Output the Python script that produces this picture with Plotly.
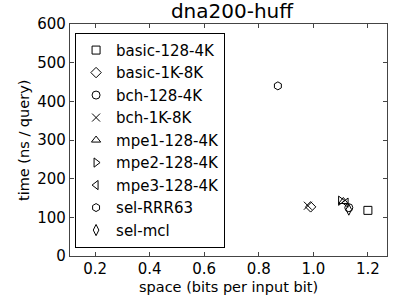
import plotly.graph_objects as go

names = ["basic-128-4K", "basic-1K-8K", "bch-128-4K", "bch-1K-8K", "mpe1-128-4K",
         "mpe2-128-4K", "mpe3-128-4K", "sel-RRR63", "sel-mcl"]
space = [1.20, 0.99, 1.13, 0.98, 1.11, 1.10, 1.12, 0.87, 1.13]
time_ns = [118, 127, 125, 130, 141, 143, 138, 440, 120]
symbols = ["square-open", "diamond-open", "circle-open", "x-thin-open", "triangle-up-open",
           "triangle-right-open", "triangle-left-open", "hexagon-open", "diamond-tall-open"]
xticks = [0.2, 0.4, 0.6, 0.8, 1.0, 1.2]
yticks = [0, 100, 200, 300, 400, 500, 600]

fig = go.Figure()
for n, sx, ty, sym in zip(names, space, time_ns, symbols):
    fig.add_trace(go.Scatter(
        x=[sx], y=[ty], mode="markers", name=n,
        marker=dict(symbol=sym, size=8, color="black",
                    line=dict(color="black", width=1)),
    ))

font = "DejaVu Sans"
axis_common = dict(showgrid=False, zeroline=False, showline=True, linecolor="#444444",
                   linewidth=1.3, mirror="ticks", ticks="inside", ticklen=4,
                   tickcolor="#444444", tickfont=dict(family=font, size=15, color="black"))
fig.update_layout(
    width=399, height=299,
    margin=dict(l=70, r=12, t=24, b=43),
    paper_bgcolor="white", plot_bgcolor="white",
    title=dict(text="dna200-huff", xref="paper", x=0.511, xanchor="center",
               yref="container", y=1 - 11 / 299, yanchor="middle",
               font=dict(family=font, size=20, color="black")),
    xaxis=dict(range=[0.108, 1.27], tickvals=xticks, ticklabelstandoff=-1,
               ticktext=[f"{v:.1f}" for v in xticks], **axis_common),
    yaxis=dict(range=[0, 600], tickvals=yticks, **axis_common),
    legend=dict(x=0.016, y=0.962, xanchor="left", yanchor="top",
                bordercolor="black", borderwidth=1, bgcolor="white",
                font=dict(family=font, size=15, color="black"),
                itemwidth=30),
    showlegend=True,
    annotations=[
        dict(text="space (bits per input bit)", xref="paper", yref="paper",
             x=0.5, y=-(287 - 256) / 232, xanchor="center", yanchor="middle",
             showarrow=False, font=dict(family=font, size=14.5, color="black")),
        dict(text="time (ns / query)", xref="paper", yref="paper",
             x=-(70 - 24) / 317, y=0.5, xanchor="center", yanchor="middle",
             textangle=-90, showarrow=False,
             font=dict(family=font, size=14.5, color="black")),
    ],
)

fig.write_html("out.html", config={"displayModeBar": False},
               post_script="document.body.style.margin='0';document.body.style.overflow='hidden';")
